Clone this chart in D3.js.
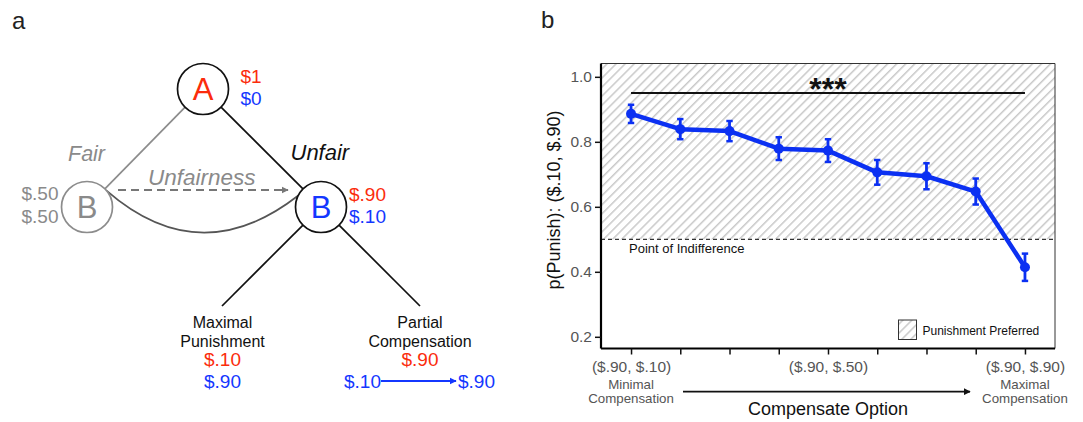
<!DOCTYPE html>
<meta charset="utf-8">
<style>
body { margin: 0; background: #fff; }
svg { display: block; font-family: "Liberation Sans", Arial, sans-serif; }
</style>
<body>
<svg width="1083" height="422"></svg>
<script src="https://cdn.jsdelivr.net/npm/d3@7"></script>
<script>

// panel b data
var compensation = [0.10, 0.20, 0.30, 0.40, 0.50, 0.60, 0.70, 0.80, 0.90];
var pPunish = [0.886, 0.839, 0.833, 0.779, 0.773, 0.706, 0.694, 0.647, 0.414];
var pSE = [0.028, 0.031, 0.031, 0.035, 0.035, 0.038, 0.040, 0.040, 0.042];
var yTicks = [0.2, 0.4, 0.6, 0.8, 1.0];
var xTickText = {"0.1": "($.90, $.10)", "0.5": "($.90, $.50)", "0.9": "($.90, $.90)"};
var xSubText = [["Minimal", "Compensation"], ["Maximal", "Compensation"]];
var indifference = 0.5;
var sigLevel = 0.95;

// panel a payoffs
var payA = ["$1", "$0"];
var payBfair = ["$.50", "$.50"];
var payBunfair = ["$.90", "$.10"];
var payPunish = ["$.10", "$.90"];
var payComp = ["$.90", "$.10", "$.90"];

var red = "#fb2c0c", blue = "#1437ff", grey = "#8a8a8a";
var lineBlue = "#0b30f2";

var svg = d3.select("svg");

// ---------- panel a ----------
var a = svg.append("g");
a.append("text").attr("x", 12).attr("y", 29).attr("font-size", 24).attr("fill", "#222").text("a");

var r = 25.5;
var A = {x: 203, y: 89}, Bl = {x: 87, y: 207}, Br = {x: 321, y: 207};
var leafL = {x: 222, y: 306}, leafR = {x: 420, y: 306};

function edge(p, q, rp, rq) {
  var dx = q.x - p.x, dy = q.y - p.y, d = Math.sqrt(dx * dx + dy * dy);
  return [p.x + dx / d * rp, p.y + dy / d * rp, q.x - dx / d * rq, q.y - dy / d * rq];
}
function drawEdge(p, q, rq, color) {
  var e = edge(p, q, r, rq);
  a.append("line").attr("x1", e[0]).attr("y1", e[1]).attr("x2", e[2]).attr("y2", e[3])
    .attr("stroke", color).attr("stroke-width", 1.7);
}
drawEdge(A, Bl, r, "#8c8c8c");
drawEdge(A, Br, r, "#111");
drawEdge(Br, leafL, 0, "#111");
drawEdge(Br, leafR, 0, "#111");

// curve from fair B to unfair B
a.append("path")
  .attr("d", "M106.5,190.6 Q200,272 298.3,195.5")
  .attr("fill", "none").attr("stroke", "#555").attr("stroke-width", 1.7);

var defs = svg.append("defs");
function marker(id, color) {
  defs.append("marker").attr("id", id).attr("viewBox", "0 0 10 10")
    .attr("refX", 9).attr("refY", 5).attr("markerWidth", 4).attr("markerHeight", 4)
    .attr("markerUnits", "strokeWidth").attr("orient", "auto")
    .append("path").attr("d", "M0,0 L10,5 L0,10 z").attr("fill", color);
}
marker("arrGrey", "#777");
marker("arrBlue", blue);
marker("arrBlack", "#111");

a.append("line").attr("x1", 118).attr("y1", 190).attr("x2", 288).attr("y2", 190)
  .attr("stroke", "#777").attr("stroke-width", 1.8).attr("stroke-dasharray", "8,5")
  .attr("marker-end", "url(#arrGrey)");

var nodes = [
  {p: A, label: "A", color: red, stroke: "#111"},
  {p: Bl, label: "B", color: grey, stroke: "#8c8c8c"},
  {p: Br, label: "B", color: blue, stroke: "#111"}
];
nodes.forEach(function(n) {
  a.append("circle").attr("cx", n.p.x).attr("cy", n.p.y).attr("r", r)
    .attr("fill", "#fff").attr("stroke", n.stroke).attr("stroke-width", 1.7);
  a.append("text").attr("x", n.p.x).attr("y", n.p.y + 11).attr("text-anchor", "middle")
    .attr("font-size", 31).attr("fill", n.color).text(n.label);
});

function txt(x, y, s, size, color, anchor, italic) {
  return a.append("text").attr("x", x).attr("y", y).attr("font-size", size)
    .attr("fill", color).attr("text-anchor", anchor || "start")
    .attr("font-style", italic ? "italic" : "normal").text(s);
}

txt(240.5, 83, payA[0], 19, red);
txt(240.5, 105, payA[1], 19, blue);
txt(349, 200.5, payBunfair[0], 19, red);
txt(349, 222.5, payBunfair[1], 19, blue);
txt(58.5, 200, payBfair[0], 19, grey, "end");
txt(58.5, 222.5, payBfair[1], 19, grey, "end");

txt(68, 161, "Fair", 21.5, grey, "start", true);
txt(290.5, 160, "Unfair", 22, "#111", "start", true);
txt(148, 185, "Unfairness", 22.5, grey, "start", true);

txt(222.5, 327.5, "Maximal", 16, "#111", "middle");
txt(222.5, 346.5, "Punishment", 16, "#111", "middle");
txt(222.5, 366, payPunish[0], 19, red, "middle");
txt(222.5, 388, payPunish[1], 19, blue, "middle");

txt(420, 327.5, "Partial", 16, "#111", "middle");
txt(420, 346.5, "Compensation", 16, "#111", "middle");
txt(420, 366, payComp[0], 19, red, "middle");
txt(344, 388, payComp[1], 19, blue, "start");
txt(495, 388, payComp[2], 19, blue, "end");
a.append("line").attr("x1", 381).attr("y1", 381).attr("x2", 456).attr("y2", 381)
  .attr("stroke", blue).attr("stroke-width", 1.8).attr("marker-end", "url(#arrBlue)");

// ---------- panel b ----------
var b = svg.append("g");
b.append("text").attr("x", 541).attr("y", 28).attr("font-size", 24).attr("fill", "#222").text("b");

var pLeft = 601, pRight = 1055, pTop = 63.5, pBottom = 348.5;
var x = d3.scaleLinear().domain([0.039, 0.961]).range([pLeft, pRight]);
var y = d3.scaleLinear().domain([0.164, 1.041]).range([pBottom, pTop]);

var pat = defs.append("pattern").attr("id", "hatch").attr("patternUnits", "userSpaceOnUse")
  .attr("width", 6.4).attr("height", 6.4).attr("patternTransform", "rotate(45)");
pat.append("line").attr("x1", 0).attr("y1", 0).attr("x2", 0).attr("y2", 6.4)
  .attr("stroke", "#c9c9c9").attr("stroke-width", 3);

b.append("rect").attr("x", pLeft).attr("y", y(1.041)).attr("width", pRight - pLeft)
  .attr("height", y(indifference) - y(1.041)).attr("fill", "url(#hatch)");

b.append("line").attr("x1", pLeft).attr("x2", pRight).attr("y1", y(indifference)).attr("y2", y(indifference))
  .attr("stroke", "#333").attr("stroke-width", 1.2).attr("stroke-dasharray", "4,3");
b.append("text").attr("x", 629).attr("y", 253.3).attr("font-size", 13).attr("fill", "#111")
  .text("Point of Indifference");

// significance bar
b.append("line").attr("x1", x(compensation[0])).attr("x2", x(compensation[8]))
  .attr("y1", y(sigLevel)).attr("y2", y(sigLevel)).attr("stroke", "#111").attr("stroke-width", 2);
b.append("text").attr("x", x(0.5)).attr("y", 100).attr("text-anchor", "middle")
  .attr("font-size", 32).attr("font-weight", "bold").attr("fill", "#111").text("***");

// border: thin top/right
b.append("path").attr("d", "M" + pLeft + "," + pTop + "H" + pRight + "V" + pBottom)
  .attr("fill", "none").attr("stroke", "#333").attr("stroke-width", 1);

// line, error bars, points
var pts = compensation.map(function(c, i) { return {c: c, p: pPunish[i], se: pSE[i]}; });
b.append("path").datum(pts)
  .attr("d", d3.line().x(function(d) { return x(d.c); }).y(function(d) { return y(d.p); }))
  .attr("fill", "none").attr("stroke", lineBlue).attr("stroke-width", 4.5).attr("stroke-linejoin", "round");
var eb = b.append("g").selectAll("g").data(pts).enter().append("g");
eb.append("line").attr("x1", function(d) { return x(d.c); }).attr("x2", function(d) { return x(d.c); })
  .attr("y1", function(d) { return y(d.p - d.se); }).attr("y2", function(d) { return y(d.p + d.se); })
  .attr("stroke", lineBlue).attr("stroke-width", 2.8);
[1, -1].forEach(function(s) {
  eb.append("line").attr("x1", function(d) { return x(d.c) - 3.2; }).attr("x2", function(d) { return x(d.c) + 3.2; })
    .attr("y1", function(d) { return y(d.p + s * d.se); }).attr("y2", function(d) { return y(d.p + s * d.se); })
    .attr("stroke", lineBlue).attr("stroke-width", 2.5);
});
eb.append("circle").attr("cx", function(d) { return x(d.c); }).attr("cy", function(d) { return y(d.p); })
  .attr("r", 5).attr("fill", lineBlue);

// axes
var yAxis = b.append("g").attr("transform", "translate(" + pLeft + ",0)")
  .call(d3.axisLeft(y).tickValues(yTicks).tickFormat(d3.format(".1f")).tickSize(6).tickPadding(3));
var xAxis = b.append("g").attr("transform", "translate(0," + pBottom + ")")
  .call(d3.axisBottom(x).tickValues(compensation).tickSize(6).tickPadding(6)
    .tickFormat(function(d) { return xTickText[d3.format(".1f")(d)] || ""; }));
[yAxis, xAxis].forEach(function(g) {
  g.select(".domain").attr("stroke", "#000").attr("stroke-width", 2.2);
  g.selectAll(".tick line").attr("stroke", "#111").attr("stroke-width", 1.5);
  g.selectAll(".tick text").attr("fill", "#555").attr("font-size", 15.5)
    .attr("font-family", "Liberation Sans, Arial, sans-serif");
});
yAxis.select(".domain").attr("d", "M0," + pTop + "V" + pBottom);
xAxis.select(".domain").attr("d", "M" + pLeft + ",0H" + pRight);
xAxis.selectAll(".tick text").attr("dy", "0.71em");

[[compensation[0], xSubText[0]], [compensation[8], xSubText[1]]].forEach(function(s) {
  s[1].forEach(function(t, j) {
    b.append("text").attr("x", x(s[0])).attr("y", 388.8 + j * 14.5).attr("text-anchor", "middle")
      .attr("font-size", 13.3).attr("fill", "#555").text(t);
  });
});

b.append("line").attr("x1", 683).attr("x2", 970).attr("y1", 391.7).attr("y2", 391.7)
  .attr("stroke", "#111").attr("stroke-width", 1.8).attr("marker-end", "url(#arrBlack)");
b.append("text").attr("x", x(0.5)).attr("y", 415).attr("text-anchor", "middle")
  .attr("font-size", 18).attr("fill", "#111").text("Compensate Option");

b.append("text").attr("transform", "translate(560,200) rotate(-90)").attr("text-anchor", "middle")
  .attr("font-size", 18).attr("fill", "#111").text("p(Punish): ($.10, $.90)");

// legend
b.append("rect").attr("x", 898.5).attr("y", 320).attr("width", 18).attr("height", 19.5)
  .attr("fill", "url(#hatch)").attr("stroke", "#333").attr("stroke-width", 1);
b.append("text").attr("x", 922.5).attr("y", 334.5).attr("font-size", 12).attr("fill", "#111")
  .text("Punishment Preferred");

</script>
</body>
